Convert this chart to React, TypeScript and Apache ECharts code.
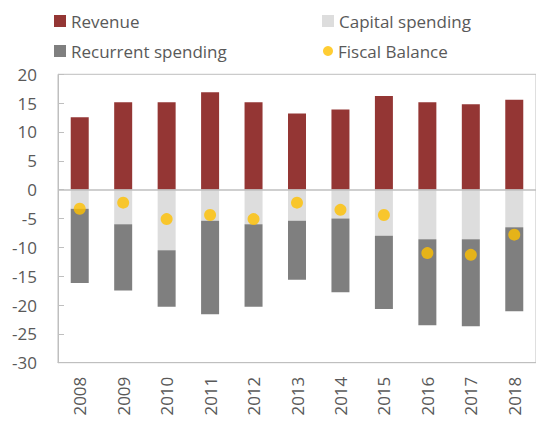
import React, { useEffect, useRef } from "react";
import * as echarts from "echarts";

const years = ["2008", "2009", "2010", "2011", "2012", "2013", "2014", "2015", "2016", "2017", "2018"];
const revenue = [12.55, 15.15, 15.15, 16.9, 15.15, 13.2, 13.9, 16.25, 15.15, 14.8, 15.6];
const capitalSpending = [-3.3, -6.0, -10.5, -5.4, -6.0, -5.4, -5.0, -8.0, -8.6, -8.6, -6.5];
const recurrentSpending = [-12.9, -11.5, -9.8, -16.2, -14.3, -10.2, -12.8, -12.7, -14.9, -15.1, -14.6];
const fiscalBalance = [-3.3, -2.25, -5.1, -4.4, -5.1, -2.25, -3.5, -4.4, -11.0, -11.3, -7.8];
const yTicks = { min: -30, max: 20, interval: 5 };

const FONT = "'Open Sans', 'Noto Sans', sans-serif";
const TEXT = "#595959";
const LINE = "#bfbfbf";

export default function App() {
  const ref = useRef<HTMLDivElement>(null);
  useEffect(() => {
    if (!ref.current) return;
    const chart = echarts.init(ref.current, undefined, { renderer: "svg" });
    const legendText = { color: TEXT, fontSize: 17, fontFamily: FONT, lineHeight: 20 };
    chart.setOption({
      animation: false,
      textStyle: { fontFamily: FONT },
      legend: [
        { left: 49, top: 6, orient: "vertical", itemGap: 10, itemWidth: 12, itemHeight: 12, textStyle: legendText, data: [{ name: "Revenue", icon: "rect" }, { name: "Recurrent spending", icon: "rect" }] },
        { left: 317, top: 6, itemWidth: 12, itemHeight: 12, textStyle: legendText, data: [{ name: "Capital spending", icon: "rect" }] },
        { left: 318, top: 36, itemWidth: 10, itemHeight: 10, itemGap: 5, textStyle: legendText, data: [{ name: "Fiscal Balance", icon: "circle" }] },
      ],
      grid: { left: 58, right: -2, top: 74.3, bottom: 58.3, show: true, borderColor: LINE, borderWidth: 1 },
      xAxis: {
        type: "category",
        data: years,
        axisLine: { onZero: false, lineStyle: { color: LINE } },
        axisTick: { show: false },
        axisLabel: { rotate: 90, color: TEXT, fontSize: 17, fontFamily: FONT, margin: 14 },
      },
      yAxis: {
        type: "value",
        min: yTicks.min,
        max: yTicks.max,
        interval: yTicks.interval,
        splitLine: { show: false },
        axisLine: { show: true, lineStyle: { color: LINE } },
        axisTick: { show: true, inside: true, length: 6, lineStyle: { color: LINE } },
        axisLabel: { color: TEXT, fontSize: 17, fontFamily: FONT, margin: 21 },
      },
      series: [
        {
          name: "Revenue",
          type: "bar",
          stack: "s",
          barWidth: 18,
          data: revenue,
          itemStyle: { color: "#943634" },
          markLine: {
            silent: true,
            symbol: "none",
            label: { show: false },
            lineStyle: { color: LINE, type: "solid", width: 1.5 },
            data: [{ yAxis: 0 }],
          },
        },
        { name: "Capital spending", type: "bar", stack: "s", barWidth: 18, data: capitalSpending, itemStyle: { color: "#dddddd" } },
        { name: "Recurrent spending", type: "bar", stack: "s", barWidth: 18, data: recurrentSpending, itemStyle: { color: "#7f7f7f" } },
        { name: "Fiscal Balance", type: "scatter", symbol: "circle", symbolSize: 12, data: fiscalBalance, itemStyle: { color: "#ffc000" }, z: 5 },
      ],
    });
    return () => chart.dispose();
  }, []);
  return <div ref={ref} style={{ width: 536, height: 421, position: "absolute", left: 0, top: 0 }} />;
}
